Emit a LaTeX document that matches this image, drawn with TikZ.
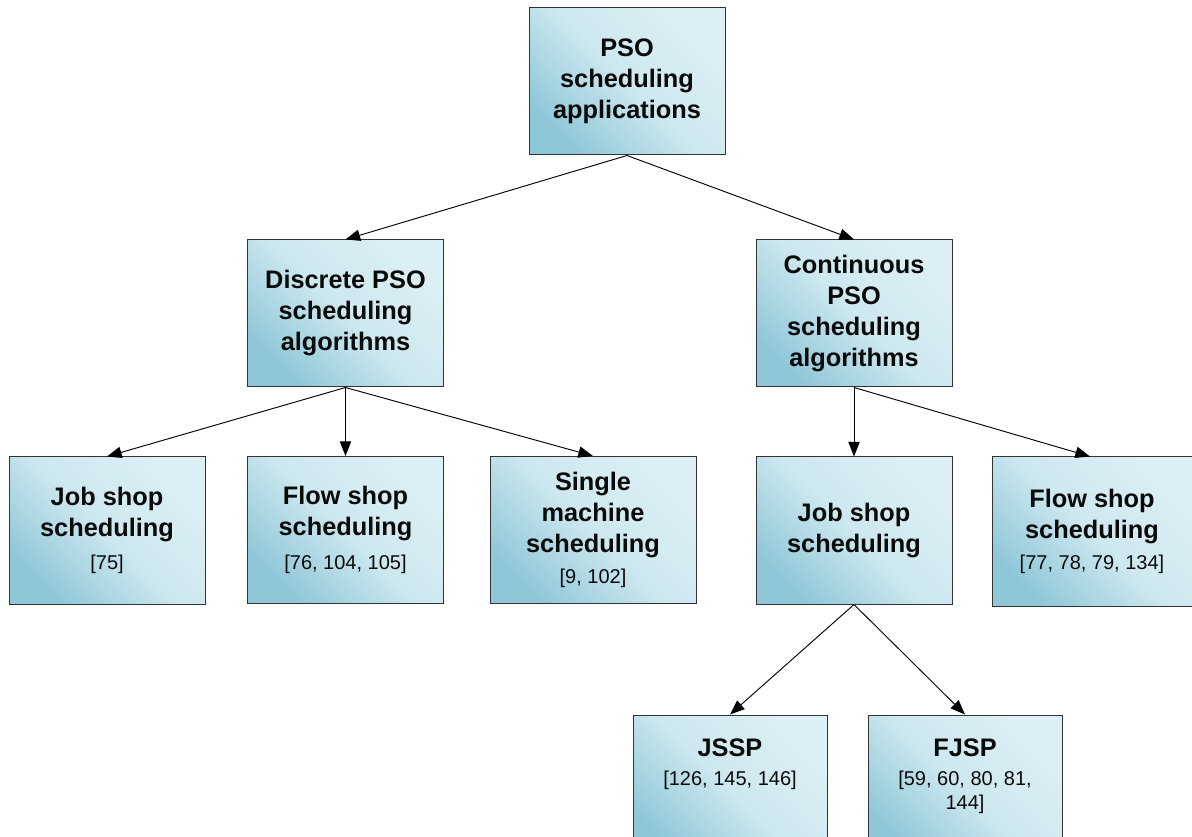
\documentclass[tikz,border=0pt]{standalone}
\usepackage{fontspec}
\setmainfont{Liberation Sans}
\usetikzlibrary{arrows.meta}
\definecolor{boxdark}{HTML}{8FC7D8}
\definecolor{boxmid}{HTML}{CDE8EF}
\definecolor{boxlight}{HTML}{DCEFF4}
\definecolor{ink}{HTML}{0A0A0A}
\newcommand{\refsize}{\fontsize{15}{18}\mdseries\selectfont}
\begin{document}
\begin{tikzpicture}[x=0.75pt,y=-0.75pt,
  box/.style={draw=black!80, line width=0.75pt,
    top color=boxlight, bottom color=boxdark, middle color=boxmid,
    shading angle=-45, minimum width=147pt, minimum height=110.25pt,
    inner sep=0pt, text=ink, align=center,
    font=\fontsize{19}{23.25}\selectfont\bfseries},
  lbl/.style={inner sep=0pt, text=ink, align=center,
    font=\fontsize{19}{23.25}\selectfont\bfseries},
  refs/.style={inner sep=0pt, text=ink, align=center,
    font=\fontsize{15}{18}\selectfont},
  link/.style={-{Triangle[length=11pt,width=8.5pt]}, line width=0.7pt, black}]
\useasboundingbox (0,0) rectangle (1192,837);
\clip (0,0) rectangle (1192,837);

% root
\node[box] (root) at (627,81.5) {PSO\\scheduling\\applications};

% second level
\node[box] (disc) at (345.5,313.5) {Discrete PSO\\scheduling\\algorithms};
\node[box] (cont) at (854,313.5) {Continuous\\PSO\\scheduling\\algorithms};

% third level
\node[box] (js1) at (107,530.5) {Job shop\\scheduling\\[2pt]{\refsize [75]}};
\node[box] (fs1) at (345.5,530) {Flow shop\\scheduling\\[2pt]{\refsize [76, 104, 105]}};
\node[box, minimum width=154.5pt] (sm) at (593,530) {Single\\machine\\scheduling\\{\refsize [9, 102]}};
\node[box] (js2) at (854,530.5) {Job shop\\scheduling};
\node[box, minimum width=150pt, minimum height=111.75pt] (fs2) at (1092,531.5) {Flow shop\\scheduling\\{\refsize [77, 78, 79, 134]}};

% fourth level
\node[box, minimum width=145.5pt] (jssp) at (730,788.5) {};
\node[box, minimum width=145.5pt] (fjsp) at (965,788.5) {};
\node[lbl] (jsspname) at (730,748) {JSSP};
\node[refs] (jsspref) at (730,780) {[126, 145, 146]};
\node[lbl] (fjspname) at (965,748) {FJSP};
\node[refs] (fjspref) at (965,792) {[59, 60, 80, 81,\\144]};

% connectors
\draw[link] (root.south) -- (disc.north);
\draw[link] (root.south) -- (cont.north);
\draw[link] (disc.south) -- (js1.north);
\draw[link] (disc.south) -- (fs1.north);
\draw[link] (disc.south) -- (sm.north);
\draw[link] (cont.south) -- (js2.north);
\draw[link] (cont.south) -- ([xshift=-1.5pt]fs2.north);
\draw[link] (js2.south) -- (jssp.north);
\draw[link] (js2.south) -- (fjsp.north);
\end{tikzpicture}
\end{document}
